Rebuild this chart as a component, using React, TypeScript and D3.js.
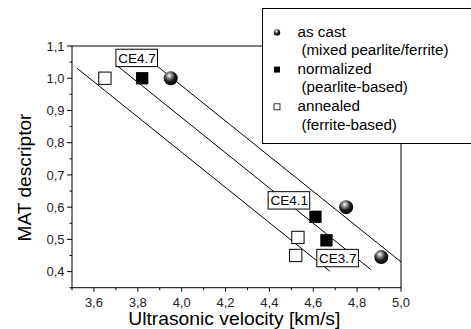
import React from "react";
import * as d3 from "d3";

const asCastX = [3.95, 4.75, 4.91];
const asCastY = [1.0, 0.6, 0.445];
const normX = [3.82, 4.61, 4.66];
const normY = [1.0, 0.57, 0.497];
const annX = [3.65, 4.53, 4.52];
const annY = [1.0, 0.506, 0.45];

const ceLabels = ["CE3.7", "CE4.1", "CE4.7"];
const ceX0 = [3.523, 3.7, 3.86];
const ceY0 = [1.031, 1.042, 1.053];
const ceX1 = [4.676, 4.862, 5.0];
const ceY1 = [0.401, 0.4065, 0.43];
const ceLabelX = [4.711, 4.489, 3.795];
const ceLabelY = [0.442, 0.621, 1.063];

const xTicks = [3.6, 3.8, 4.0, 4.2, 4.4, 4.6, 4.8, 5.0];
const xMinor = [3.5, 3.7, 3.9, 4.1, 4.3, 4.5, 4.7, 4.9];
const yTicks = [0.4, 0.5, 0.6, 0.7, 0.8, 0.9, 1.0, 1.1];
const yMinor = [0.35, 0.45, 0.55, 0.65, 0.75, 0.85, 0.95, 1.05];

const legendMain = ["as cast", "normalized", "annealed"];
const legendSub = ["(mixed pearlite/ferrite)", "(pearlite-based)", "(ferrite-based)"];
const legendMainW = [48.3, 74.3, 62.5];
const legendSubW = [147, 106.4, 95.4];

const W = 471, H = 329;
const L = 72, R = 401, T = 46, B = 287.7;

export default function App() {
  const x = d3.scaleLinear().domain([3.5, 5.0]).range([L, R]);
  const y = d3.scaleLinear().domain([0.35, 1.1]).range([B, T]);
  const fmt = (v: number) => d3.format(".1f")(v).replace(".", ",");
  const font = "'Liberation Sans', Arial, sans-serif";
  const line = d3.line<[number, number]>().x((d) => x(d[0])).y((d) => y(d[1]));
  const sq = 12.3;
  const sphereR = 7;

  const legX = 262.5, legY = 8.5, legW = 215, legH = 135;
  const base0 = 36.6, step = 18.6;

  return (
    <svg width={W} height={H} style={{ position: "absolute", left: 0, top: 0 }} fontFamily={font}>
      <defs>
        <radialGradient id="sph" cx="0.4" cy="0.35" r="0.65" fx="0.4" fy="0.3">
          <stop offset="0" stopColor="#ffffff" />
          <stop offset="0.25" stopColor="#9a9a9a" />
          <stop offset="0.6" stopColor="#222" />
          <stop offset="1" stopColor="#000" />
        </radialGradient>
      </defs>
      <rect width={W} height={H} fill="#fff" />
      <rect x={L} y={T} width={R - L} height={B - T} fill="none" stroke="#000" strokeWidth={1} />
      {xTicks.map((t) => (
        <g key={"xt" + t}>
          <line x1={x(t)} x2={x(t)} y1={B} y2={B + 4} stroke="#000" />
          <text x={x(t)} y={306.5} fontSize={13} textAnchor="middle" fill="#222">{fmt(t)}</text>
        </g>
      ))}
      {xMinor.map((t) => (
        <line key={"xm" + t} x1={x(t)} x2={x(t)} y1={B} y2={B + 2.5} stroke="#000" />
      ))}
      {yTicks.map((t) => (
        <g key={"yt" + t}>
          <line x1={L - 5} x2={L} y1={y(t)} y2={y(t)} stroke="#000" />
          <text x={64.5} y={y(t) + 4.6} fontSize={13} textAnchor="end" fill="#222">{fmt(t)}</text>
        </g>
      ))}
      {yMinor.map((t) => (
        <line key={"ym" + t} x1={L - 2.5} x2={L} y1={y(t)} y2={y(t)} stroke="#000" />
      ))}
      {ceLabels.map((c, i) => (
        <path key={"l" + c} d={line([[ceX0[i], ceY0[i]], [ceX1[i], ceY1[i]]]) || ""} stroke="#000" strokeWidth={1} fill="none" />
      ))}
      {annX.map((v, i) => (
        <rect key={"a" + i} x={x(v) - sq / 2} y={y(annY[i]) - sq / 2} width={sq} height={sq} fill="#fff" stroke="#000" strokeWidth={1} />
      ))}
      {normX.map((v, i) => (
        <rect key={"n" + i} x={x(v) - sq / 2} y={y(normY[i]) - sq / 2} width={sq} height={sq} fill="#000" />
      ))}
      {asCastX.map((v, i) => (
        <circle key={"c" + i} cx={x(v)} cy={y(asCastY[i])} r={sphereR} fill="url(#sph)" />
      ))}
      {ceLabels.map((c, i) => (
        <g key={"lab" + c}>
          <rect x={x(ceLabelX[i]) - 20.8} y={y(ceLabelY[i]) - 8.7} width={41.6} height={17.4} fill="#fff" stroke="#000" strokeWidth={1} />
          <text x={x(ceLabelX[i]) - 18.5} y={y(ceLabelY[i]) + 5} fontSize={13.7} textLength={37.5} lengthAdjust="spacingAndGlyphs" fill="#000">{c}</text>
        </g>
      ))}
      <rect x={legX} y={legY} width={legW} height={legH} fill="#fff" stroke="#000" strokeWidth={1} />
      <circle cx={277} cy={base0 - 4.2} r={3.2} fill="url(#sph)" />
      <rect x={277 - 3} y={base0 + 2 * step - 4.2 - 3} width={6} height={6} fill="#000" />
      <rect x={277 - 3} y={base0 + 4 * step - 4.2 - 3} width={6} height={6} fill="#fff" stroke="#000" strokeWidth={0.8} />
      {legendMain.map((m, i) => (
        <g key={"lg" + m}>
          <text x={297.5} y={base0 + 2 * i * step} fontSize={15.3} textLength={legendMainW[i]} lengthAdjust="spacingAndGlyphs" fill="#000">{m}</text>
          <text x={301.5} y={base0 + (2 * i + 1) * step} fontSize={15.3} textLength={legendSubW[i]} lengthAdjust="spacingAndGlyphs" fill="#000">{legendSub[i]}</text>
        </g>
      ))}
      <text x={128.3} y={325} fontSize={18.5} textLength={212} lengthAdjust="spacingAndGlyphs" fill="#000">Ultrasonic velocity [km/s]</text>
      <text transform={`translate(31,177.5) rotate(-90)`} fontSize={18.5} textAnchor="middle" textLength={128} lengthAdjust="spacingAndGlyphs" fill="#000">MAT descriptor</text>
    </svg>
  );
}
